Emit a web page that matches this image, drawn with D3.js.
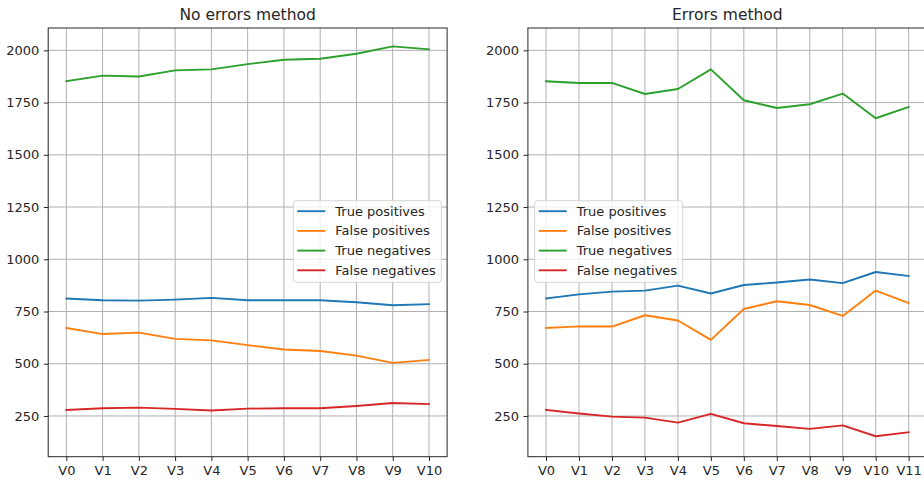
<!DOCTYPE html>
<html>
<head>
<meta charset="utf-8">
<script src="https://cdnjs.cloudflare.com/ajax/libs/d3/7.8.5/d3.min.js"></script>
<style>
  body { margin: 0; background: #fff; }
  svg { display: block; font-family: "DejaVu Sans", sans-serif; }
  .grid line { stroke: #b0b0b0; stroke-width: 1; }
</style>
</head>
<body>
<script>
// ----- DATA -----
const seriesNames = ["True positives", "False positives", "True negatives", "False negatives"];
const seriesColors = ["#1f77b4", "#ff7f0e", "#2ca02c", "#d62728"];

const noErrLabels = ["V0", "V1", "V2", "V3", "V4", "V5", "V6", "V7", "V8", "V9", "V10"];
const noErrTP = [812, 804, 802, 807, 815, 804, 804, 804, 794, 780, 785];
const noErrFP = [671, 642, 649, 619, 612, 589, 568, 561, 539, 504, 518];
const noErrTN = [1852, 1879, 1875, 1904, 1909, 1934, 1955, 1960, 1984, 2019, 2005];
const noErrFN = [279, 287, 290, 284, 276, 285, 287, 287, 298, 312, 307];

const errLabels = ["V0", "V1", "V2", "V3", "V4", "V5", "V6", "V7", "V8", "V9", "V10", "V11"];
const errTP = [812, 832, 845, 850, 874, 836, 877, 889, 903, 886, 939, 920];
const errFP = [671, 679, 678, 732, 707, 614, 762, 799, 781, 729, 850, 791];
const errTN = [1852, 1844, 1844, 1791, 1815, 1909, 1761, 1724, 1742, 1793, 1675, 1729];
const errFN = [279, 262, 247, 242, 218, 260, 215, 202, 188, 205, 153, 172];

const yTicks = [250, 500, 750, 1000, 1250, 1500, 1750, 2000];

const w = 924;
const h = 483;
const plotTop = 28, plotBottom = 456.7;

const svg = d3.select("body").
append("svg").
attr("width", w).
attr("height", h);

// y range shared by both panels
const yScale = d3.scaleLinear().
domain([55, 2107]).
range([plotBottom, plotTop]);

function drawPanel(left, right, title, labels, series, legendX) {
  const n = labels.length;
  const pad = (n - 1) * 0.05;
  const xScale = d3.scaleLinear().
  domain([-pad, n - 1 + pad]).
  range([left, right]);

  const g = svg.append("g");

  // ----- GRID -----
  g.append("g").attr("class", "grid").
  selectAll("line.x").
  data(labels).
  enter().
  append("line").
  attr("x1", (d, i) => xScale(i)).
  attr("x2", (d, i) => xScale(i)).
  attr("y1", plotTop).
  attr("y2", plotBottom);

  g.append("g").attr("class", "grid").
  selectAll("line.y").
  data(yTicks).
  enter().
  append("line").
  attr("x1", left).
  attr("x2", right).
  attr("y1", d => yScale(d)).
  attr("y2", d => yScale(d));

  // ----- LINES -----
  const line = d3.line().
  x((d, i) => xScale(i)).
  y(d => yScale(d));

  series.forEach((s, k) => {
    g.append("path").
    datum(s).
    attr("d", line).
    attr("fill", "none").
    attr("stroke", seriesColors[k]).
    attr("stroke-width", 1.9).
    attr("stroke-linejoin", "round").
    attr("stroke-linecap", "square");
  });

  // ----- AXES -----
  const xAxis = d3.axisBottom(xScale).
  tickValues(d3.range(n)).
  tickFormat(i => labels[i]).
  tickSize(4.4).
  tickPadding(4.4).
  tickSizeOuter(0);

  const yAxis = d3.axisLeft(yScale).
  tickValues(yTicks).
  tickFormat(d3.format("d")).
  tickSize(4.4).
  tickPadding(4.4).
  tickSizeOuter(0);

  g.append("g").
  attr("transform", "translate(0," + plotBottom + ")").
  call(xAxis).
  call(a => a.select(".domain").remove());

  g.append("g").
  attr("transform", "translate(" + left + ",0)").
  call(yAxis).
  call(a => a.select(".domain").remove());

  g.selectAll(".tick text").
  attr("font-family", "DejaVu Sans").
  attr("font-size", 13).
  attr("fill", "#262626");
  g.selectAll(".tick line").attr("stroke", "#262626").attr("stroke-width", 1);

  // spines
  g.append("rect").
  attr("x", left).
  attr("y", plotTop).
  attr("width", right - left).
  attr("height", plotBottom - plotTop).
  attr("fill", "none").
  attr("stroke", "#262626").
  attr("stroke-width", 1);

  // ----- TITLE -----
  g.append("text").
  attr("x", (left + right) / 2).
  attr("y", 20).
  attr("text-anchor", "middle").
  attr("font-size", 15.5).
  attr("fill", "#262626").
  text(title);

  // ----- LEGEND -----
  const legend = g.append("g").attr("transform", "translate(" + legendX + ",200.7)");
  legend.append("rect").
  attr("width", 148).
  attr("height", 81.6).
  attr("rx", 3).
  attr("fill", "#fff").
  attr("fill-opacity", 0.8).
  attr("stroke", "#d6d6d6").
  attr("stroke-width", 1);

  const rows = legend.selectAll("g.row").
  data(seriesNames).
  enter().
  append("g").
  attr("transform", (d, i) => "translate(0," + (10.5 + i * 19.7) + ")");

  rows.append("line").
  attr("x1", 4).
  attr("x2", 32).
  attr("stroke", (d, i) => seriesColors[i]).
  attr("stroke-width", 1.9);

  rows.append("text").
  attr("x", 42).
  attr("dy", "0.35em").
  attr("font-size", 13).
  attr("fill", "#262626").
  text(d => d);
}

drawPanel(48.2, 447.1, "No errors method", noErrLabels, [noErrTP, noErrFP, noErrTN, noErrFN], 293.3);
drawPanel(527.9, 926.8, "Errors method", errLabels, [errTP, errFP, errTN, errFN], 534.7);
</script>
</body>
</html>
